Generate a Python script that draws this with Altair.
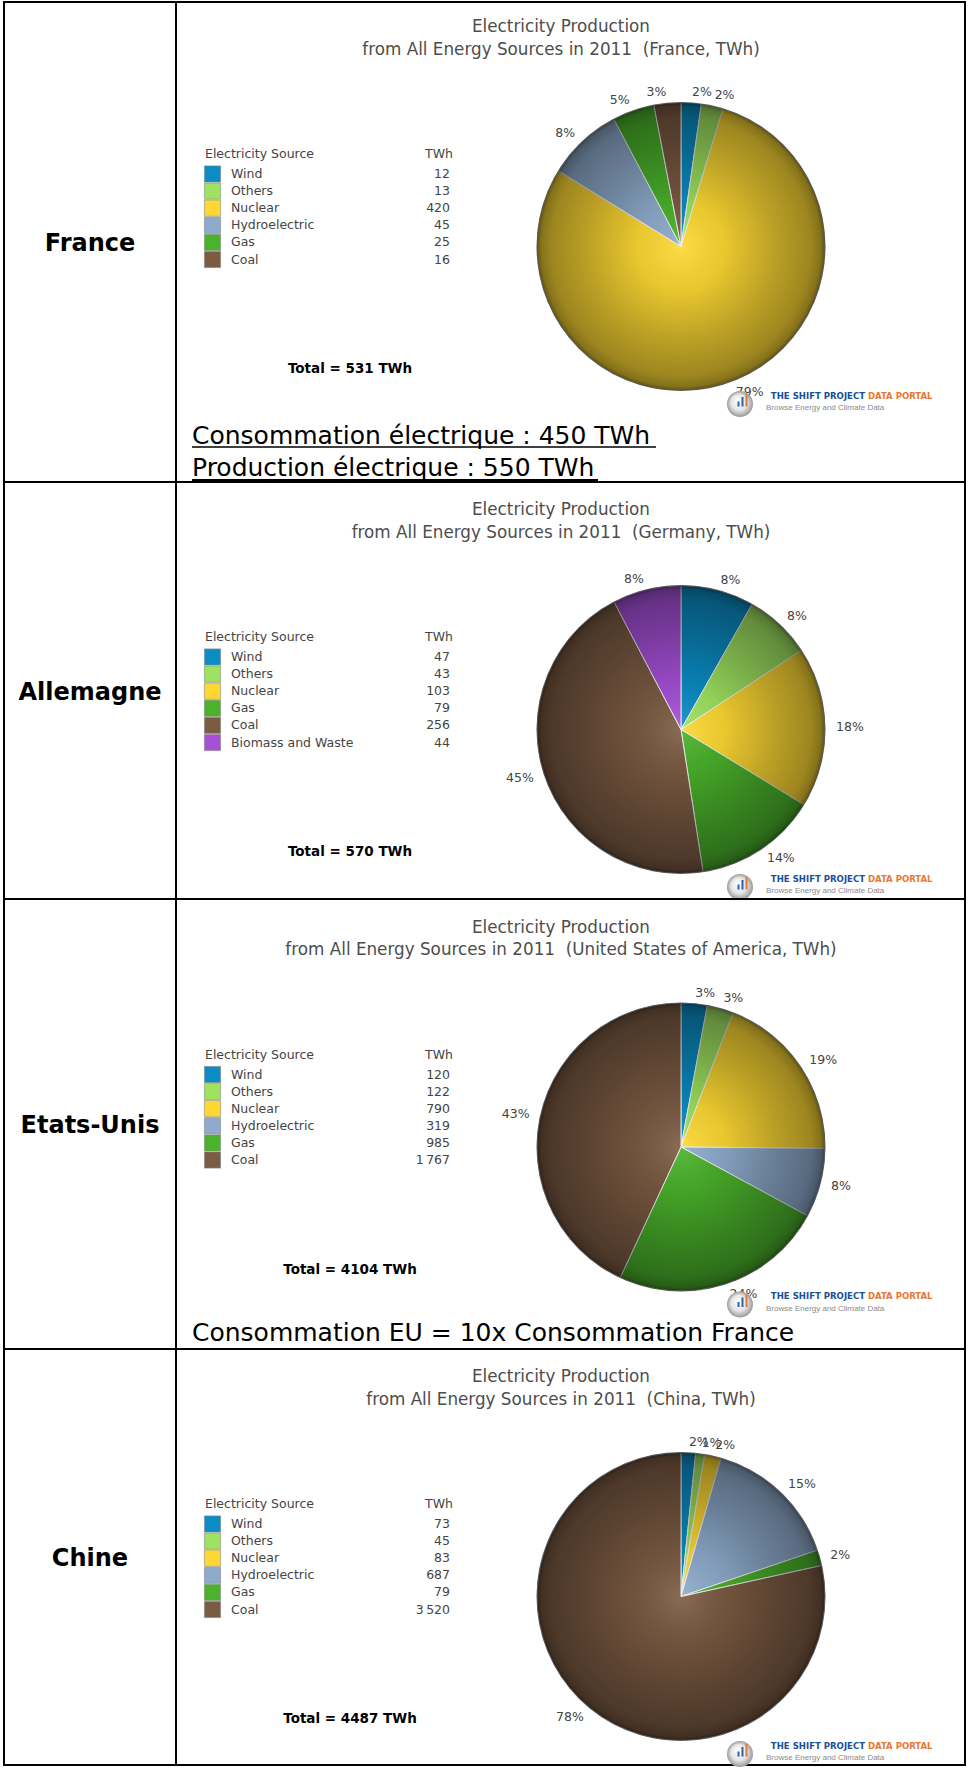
import math
import altair as alt
import pandas as pd

# ---------------- data ----------------
ALL_SOURCES = ["Wind", "Others", "Nuclear", "Hydroelectric", "Gas", "Coal", "Biomass and Waste"]
SOURCE_COLORS = ["#0b8cc4", "#9ee260", "#fdd833", "#8eabcc", "#4ab22b", "#7c5b43", "#a650d8"]

country_names = ["France", "Allemagne", "Etats-Unis", "Chine"]
country_titles = ["France", "Germany", "United States of America", "China"]

france_sources = ["Wind", "Others", "Nuclear", "Hydroelectric", "Gas", "Coal"]
france_values = [12, 13, 420, 45, 25, 16]

germany_sources = ["Wind", "Others", "Nuclear", "Gas", "Coal", "Biomass and Waste"]
germany_values = [47, 43, 103, 79, 256, 44]

usa_sources = ["Wind", "Others", "Nuclear", "Hydroelectric", "Gas", "Coal"]
usa_values = [120, 122, 790, 319, 985, 1767]

china_sources = ["Wind", "Others", "Nuclear", "Hydroelectric", "Gas", "Coal"]
china_values = [73, 45, 83, 687, 79, 3520]

totals = [531, 570, 4104, 4487]

france_notes = ["Consommation électrique : 450 TWh", "Production électrique : 550 TWh"]
usa_notes = ["Consommation EU = 10x Consommation France"]

# ---------------- styling ----------------
SANS = "DejaVu Sans"
COND = "DejaVu Sans Condensed, Liberation Sans Narrow, sans-serif"
W = 961
ROW_H = [480, 417, 450, 416]
ROW_DY = [-3, 0, 0.5, 0]

shade = alt.RadialGradient(
    gradient="radial",
    stops=[
        alt.GradientStop(color="rgba(255,255,255,0.10)", offset=0.0),
        alt.GradientStop(color="rgba(0,0,0,0.08)", offset=0.3),
        alt.GradientStop(color="rgba(0,0,0,0.26)", offset=0.65),
        alt.GradientStop(color="rgba(0,0,0,0.38)", offset=0.9),
        alt.GradientStop(color="rgba(0,0,0,0.48)", offset=0.97),
        alt.GradientStop(color="rgba(0,0,0,0.65)", offset=1.0),
    ],
    x1=0.5, y1=0.5, r1=0, x2=0.5, y2=0.5, r2=0.5,
)
logo_shade = alt.RadialGradient(
    gradient="radial",
    stops=[
        alt.GradientStop(color="#ffffff", offset=0.0),
        alt.GradientStop(color="#e6e6e6", offset=0.6),
        alt.GradientStop(color="#9a9a9a", offset=1.0),
    ],
    x1=0.4, y1=0.35, r1=0, x2=0.5, y2=0.5, r2=0.5,
)

color_enc = alt.Color("source:N", scale=alt.Scale(domain=ALL_SOURCES, range=SOURCE_COLORS), legend=None)


def slice_table(sources, values):
    tot = sum(values)
    rows = []
    cum = 0
    for i, (s, v) in enumerate(zip(sources, values)):
        start = cum
        cum += v
        mid = (start + cum) / 2
        rows.append(dict(
            idx=i, source=s, value=v, start=start, end=cum, mid=mid,
            pct=f"{round(v / tot * 100)}%",
            side="right" if mid / tot < 0.5 else "left",
            vtxt=f"{v:,}".replace(",", "\u2009"),
        ))
    return pd.DataFrame(rows), tot


def txt(text, x, y, **kw):
    one = pd.DataFrame({"k": [0]})
    return alt.Chart(one).mark_text(text=text, **kw).encode(x=alt.value(x), y=alt.value(y))


def rule(x, x2, y, y2, **kw):
    one = pd.DataFrame({"k": [0]})
    return alt.Chart(one).mark_rule(**kw).encode(
        x=alt.value(x), x2=alt.value(x2), y=alt.value(y), y2=alt.value(y2))


def row_chart(k, sources, values, notes=None, underline=False):
    h = ROW_H[k]
    dy = ROW_DY[k]
    df, tot = slice_table(sources, values)
    one = pd.DataFrame({"k": [0]})
    cx, cy = 677, 247.5 + dy
    tscale = alt.Scale(domain=[0, tot])
    layers = []

    # column separator
    layers.append(rule(172, 172, 0, h, color="black", strokeWidth=2))
    # country name
    layers.append(txt(country_names[k], 86, h / 2 + 2, font=SANS, fontWeight="bold",
                      fontSize=24, color="#000000", align="center", baseline="middle"))
    # chart title
    layers.append(txt("Electricity Production", 557, 28 + dy, font=SANS, fontSize=16.8,
                      color="#4d4d4d", align="center", baseline="middle"))
    layers.append(txt(f"from All Energy Sources in 2011\u00a0 ({country_titles[k]}, TWh)", 557, 50.5 + dy,
                      font=SANS, fontSize=16.8, color="#4d4d4d", align="center", baseline="middle"))

    # legend table
    layers.append(txt("Electricity Source", 201, 155 + dy, font=SANS, fontSize=12.5,
                      color="#444444", align="left", baseline="middle"))
    layers.append(txt("TWh", 449, 155 + dy, font=SANS, fontSize=12.5,
                      color="#444444", align="right", baseline="middle"))
    yenc = alt.Y("idx:Q", axis=None,
                 scale=alt.Scale(domain=[0, 5], range=[175 + dy, 175 + dy + 5 * 17.1], nice=False, zero=False))
    layers.append(alt.Chart(df).mark_square(size=262, filled=True, opacity=1, stroke="#8a8a8a",
                                            strokeWidth=0.6).encode(x=alt.value(208.5), y=yenc, color=color_enc))
    layers.append(alt.Chart(df).mark_text(font=SANS, fontSize=12.5, color="#444444", align="left",
                                          baseline="middle").encode(x=alt.value(227), y=yenc, text="source:N"))
    layers.append(alt.Chart(df).mark_text(font=SANS, fontSize=12.5, color="#444444", align="right",
                                          baseline="middle").encode(x=alt.value(446), y=yenc, text="vtxt:N"))

    # total
    layers.append(txt(f"Total = {totals[k]} TWh", 346, 370 + dy, font=SANS, fontWeight="bold",
                      fontSize=13.5, color="#000000", align="center", baseline="middle"))

    # pie
    layers.append(alt.Chart(df).mark_arc(radius=144, stroke="#eeeeee", strokeWidth=1).encode(
        theta=alt.Theta("start:Q", scale=tscale, stack=None), theta2="end:Q",
        color=color_enc, order=alt.Order("idx:Q"),
        x=alt.value(cx), y=alt.value(cy)))
    layers.append(alt.Chart(one).mark_arc(radius=144.5, theta=0, theta2=2 * math.pi, fill=shade).encode(
        x=alt.value(cx), y=alt.value(cy)))
    for side, align in [("right", "left"), ("left", "right")]:
        layers.append(alt.Chart(df).transform_filter(alt.datum.side == side).mark_text(
            radius=155, align=align, baseline="middle", font=SANS, fontSize=12.5, color="#444444").encode(
            theta=alt.Theta("mid:Q", scale=tscale, stack=None), text="pct:N",
            x=alt.value(cx), y=alt.value(cy)))

    # logo
    ly = 396.5 + dy
    layers.append(alt.Chart(one).mark_arc(radius=13, theta=0, theta2=2 * math.pi, fill=logo_shade).encode(
        x=alt.value(736), y=alt.value(ly + 8.5)))
    layers.append(rule(734.5, 734.5, ly + 6, ly + 11, color="#2a64b0", strokeWidth=2))
    layers.append(rule(738.5, 738.5, ly + 1.5, ly + 11, color="#2a64b0", strokeWidth=2))
    layers.append(rule(742.5, 742.5, ly - 1.5, ly + 11, color="#e8782f", strokeWidth=2))
    layers.append(txt("THE SHIFT PROJECT", 861, ly, font=COND, fontWeight="bold", fontSize=9.5,
                      color="#1b4f99", align="right", baseline="middle"))
    layers.append(txt("DATA PORTAL", 864, ly, font=COND, fontWeight="bold", fontSize=9.5,
                      color="#e8782f", align="left", baseline="middle"))
    layers.append(txt("Browse Energy and Climate Data", 762, ly + 12.5, font="Liberation Sans", fontSize=8,
                      color="#8a8a8a", align="left", baseline="middle"))

    # notes
    if notes:
        for j, note in enumerate(notes):
            ny = 434 + 32 * j
            layers.append(txt(note, 188, ny, font=SANS, fontSize=25, color="#000000",
                              align="left", baseline="middle"))
        if underline:
            layers.append(rule(188, 652, 445, 445, color="#000000", strokeWidth=1.5))
            layers.append(rule(188, 594, 478, 478, color="#000000", strokeWidth=2))

    return alt.layer(*layers).properties(width=W, height=h)


rows = [
    row_chart(0, france_sources, france_values, france_notes, underline=True),
    row_chart(1, germany_sources, germany_values),
    row_chart(2, usa_sources, usa_values, usa_notes),
    row_chart(3, china_sources, china_values),
]

chart = alt.vconcat(*rows, spacing=0, bounds="flush").resolve_scale(
    theta="independent", y="independent"
).properties(
    padding={"left": 3, "top": 0, "right": 0, "bottom": 0},
    background="white",
).configure_view(stroke="black", strokeWidth=2)

chart.save("out.html", embed_options={"renderer": "svg", "actions": False})
